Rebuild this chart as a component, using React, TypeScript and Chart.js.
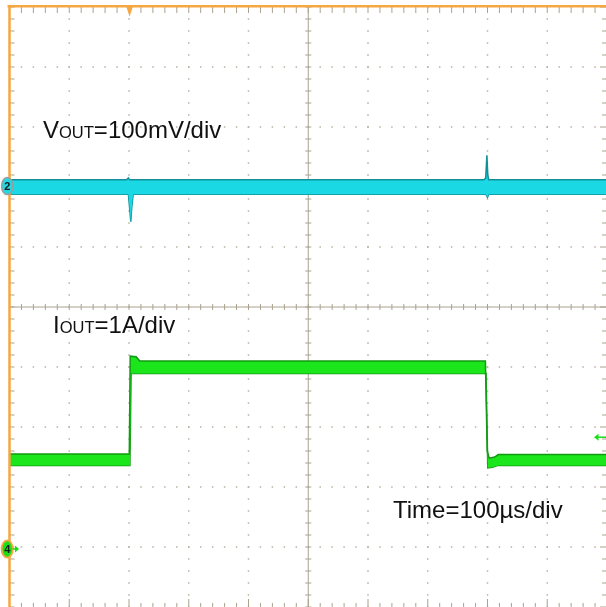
import React, { useEffect, useRef } from "react";
import { Chart, registerables } from "chart.js";
Chart.register(...registerables);

// Screen: 10 x 10 divisions, time 100 µs/div
const TIME_MIN = 0;
const TIME_MAX = 1000; // µs
const DIV_MIN = -5;
const DIV_MAX = 5;
const TIME_STEP = 100; // µs per division
const MINOR = 5; // minor ticks per division

// Channel 2 (VOUT, 100 mV/div) – envelope of the noisy trace, levels in divisions
const vTimeUpper = [0, 196, 199, 201, 205, 794, 797, 799, 800.5, 802, 1000];
const vUpper = [2.12, 2.12, 2.15, 2.12, 2.12, 2.12, 2.15, 2.53, 2.2, 2.12, 2.12];
const vTimeLower = [0, 199, 201.5, 203, 204.5, 207, 797, 800, 802, 1000];
const vLower = [1.88, 1.88, 1.6, 1.42, 1.65, 1.88, 1.88, 1.83, 1.88, 1.88];

// Channel 4 (IOUT, 1 A/div) – envelope of the noisy trace, levels in divisions
const iTimeUpper = [0, 200.5, 202, 212, 218, 796.5, 799.5, 803, 812, 818, 1000];
const iUpper = [-2.45, -2.45, -0.82, -0.83, -0.9, -0.9, -2.4, -2.52, -2.5, -2.46, -2.46];
const iTimeLower = [0, 201.5, 203.5, 797.5, 800.5, 808, 818, 1000];
const iLower = [-2.64, -2.64, -1.11, -1.11, -2.68, -2.67, -2.64, -2.64];

// Markers
const ch2Offset = 2; // divisions
const ch4Offset = -4; // divisions
const triggerTime = 201; // µs
const triggerLevel = -2.17; // divisions

const ORANGE = "#f5a742";
const GRID = "#b9b2a2";
const TICK = "#a9a28f";

const pts = (xs: number[], ys: number[]) => xs.map((x, i) => ({ x, y: ys[i] }));

const scopePlugin = {
  id: "scope",
  beforeDatasetsDraw(chart: any) {
    const { ctx, chartArea, scales } = chart;
    const { left, right, top, bottom } = chartArea;
    const xs = scales.x;
    const ys = scales.y;
    ctx.save();
    // dotted grid
    ctx.fillStyle = GRID;
    for (let d = 1; d < 10; d++) {
      if (d === 5) continue;
      const px = xs.getPixelForValue(d * TIME_STEP);
      for (let m = 0; m <= 10 * MINOR; m++) {
        const py = ys.getPixelForValue(DIV_MIN + m / MINOR);
        ctx.fillRect(px - 0.75, py - 0.75, 1.5, 1.5);
      }
    }
    for (let d = DIV_MIN + 1; d < DIV_MAX; d++) {
      if (d === 0) continue;
      const py = ys.getPixelForValue(d);
      for (let m = 0; m <= 10 * MINOR; m++) {
        const px = xs.getPixelForValue((m / MINOR) * TIME_STEP);
        ctx.fillRect(px - 0.75, py - 0.75, 1.5, 1.5);
      }
    }
    // center crosshair
    const cx = xs.getPixelForValue(500);
    const cy = ys.getPixelForValue(0);
    ctx.strokeStyle = TICK;
    ctx.lineWidth = 1;
    ctx.beginPath();
    ctx.moveTo(cx, top);
    ctx.lineTo(cx, bottom);
    ctx.moveTo(left, cy);
    ctx.lineTo(right, cy);
    for (let m = 0; m <= 10 * MINOR; m++) {
      const py = ys.getPixelForValue(DIV_MIN + m / MINOR);
      ctx.moveTo(cx - 3, py);
      ctx.lineTo(cx + 3, py);
      const px = xs.getPixelForValue((m / MINOR) * TIME_STEP);
      ctx.moveTo(px, cy - 3);
      ctx.lineTo(px, cy + 3);
    }
    // edge ticks
    for (let m = 0; m <= 10 * MINOR; m++) {
      const major = m % MINOR === 0;
      const py = ys.getPixelForValue(DIV_MIN + m / MINOR);
      const px = xs.getPixelForValue((m / MINOR) * TIME_STEP);
      const l = major ? 7 : 5;
      ctx.moveTo(left, py);
      ctx.lineTo(left + 5, py);
      ctx.moveTo(right, py);
      ctx.lineTo(right - l, py);
      ctx.moveTo(px, top);
      ctx.lineTo(px, top + 6);
      ctx.moveTo(px, bottom);
      ctx.lineTo(px, bottom - (major ? 8 : 4));
    }
    ctx.stroke();
    ctx.restore();
  },
  afterDatasetsDraw(chart: any) {
    const { ctx, chartArea, scales } = chart;
    const { left, right, top, bottom } = chartArea;
    const xs = scales.x;
    const ys = scales.y;
    ctx.save();
    // orange frame (left, top)
    ctx.strokeStyle = ORANGE;
    ctx.lineWidth = 2.5;
    ctx.beginPath();
    ctx.moveTo(left, top - 1);
    ctx.lineTo(left, bottom + 2);
    ctx.moveTo(left - 2, top - 0.8);
    ctx.lineTo(right + 2, top - 0.8);
    ctx.stroke();
    // trigger position triangle
    const tx = xs.getPixelForValue(triggerTime);
    ctx.fillStyle = ORANGE;
    ctx.beginPath();
    ctx.moveTo(tx - 3.5, top - 1);
    ctx.lineTo(tx + 3.5, top - 1);
    ctx.lineTo(tx, top + 9.5);
    ctx.closePath();
    ctx.fill();
    // channel 2 marker
    const y2 = ys.getPixelForValue(ch2Offset);
    ctx.beginPath();
    ctx.ellipse(left - 2.3, y2 - 1, 5.6, 8.6, 0, 0, Math.PI * 2);
    ctx.fillStyle = "#22d6e2";
    ctx.fill();
    ctx.lineWidth = 1.5;
    ctx.strokeStyle = "#9d9d9d";
    ctx.stroke();
    ctx.fillStyle = "#1a1a1a";
    ctx.font = "bold 11px 'Liberation Sans', Arial, sans-serif";
    ctx.textAlign = "center";
    ctx.textBaseline = "middle";
    ctx.fillText("2", left - 2.3, y2 - 0.5);
    // channel 4 marker
    const y4 = ys.getPixelForValue(ch4Offset);
    ctx.beginPath();
    ctx.ellipse(left - 2.3, y4 + 2, 5.6, 8.6, 0, 0, Math.PI * 2);
    ctx.fillStyle = "#18e018";
    ctx.fill();
    ctx.lineWidth = 1.8;
    ctx.strokeStyle = ORANGE;
    ctx.stroke();
    ctx.fillStyle = "#1a1a1a";
    ctx.fillText("4", left - 2.3, y4 + 2.5);
    ctx.fillStyle = "#18e018";
    ctx.strokeStyle = "#18e018";
    ctx.lineWidth = 1.5;
    ctx.beginPath();
    ctx.moveTo(left + 3, y4 + 2);
    ctx.lineTo(left + 6, y4 + 2);
    ctx.stroke();
    ctx.beginPath();
    ctx.moveTo(left + 5.5, y4 - 1.5);
    ctx.lineTo(left + 9.5, y4 + 2);
    ctx.lineTo(left + 5.5, y4 + 5.5);
    ctx.closePath();
    ctx.fill();
    // trigger level arrow (right)
    const ty = ys.getPixelForValue(triggerLevel);
    ctx.beginPath();
    ctx.moveTo(right - 13, ty);
    ctx.lineTo(right - 8.5, ty - 3.5);
    ctx.lineTo(right - 8.5, ty + 3.5);
    ctx.closePath();
    ctx.fill();
    ctx.beginPath();
    ctx.moveTo(right - 9, ty);
    ctx.lineTo(right, ty);
    ctx.stroke();
    ctx.restore();
  },
};

const FONT = "'Liberation Sans', Arial, Helvetica, sans-serif";

function Label({ left, baseline, main, sub, rest }: { left: number; baseline: number; main: string; sub?: string; rest: string }) {
  return (
    <div
      style={{
        position: "absolute",
        left,
        top: baseline - 20.3,
        fontFamily: FONT,
        fontSize: 24,
        lineHeight: "24px",
        color: "#111",
        whiteSpace: "nowrap",
      }}
    >
      {main}
      {sub ? <span style={{ fontSize: 16.5 }}>{sub}</span> : null}
      {rest}
    </div>
  );
}

export default function App() {
  const ref = useRef<HTMLCanvasElement | null>(null);
  useEffect(() => {
    document.body.style.margin = "0";
    const canvas = ref.current!;
    const chart = new Chart(canvas, {
      type: "line",
      data: {
        datasets: [
          {
            label: "VOUT upper",
            data: pts(vTimeUpper, vUpper),
            borderColor: "#12909a",
            backgroundColor: "#1ad8e4",
            borderWidth: 1.5,
            fill: "+1",
            pointRadius: 0,
            tension: 0,
          },
          {
            label: "VOUT lower",
            data: pts(vTimeLower, vLower),
            borderColor: "#12909a",
            borderWidth: 1.5,
            fill: false,
            pointRadius: 0,
            tension: 0,
          },
          {
            label: "IOUT upper",
            data: pts(iTimeUpper, iUpper),
            borderColor: "#129a12",
            backgroundColor: "#1be51b",
            borderWidth: 1.5,
            fill: "+1",
            pointRadius: 0,
            tension: 0,
          },
          {
            label: "IOUT lower",
            data: pts(iTimeLower, iLower),
            borderColor: "#129a12",
            borderWidth: 1.5,
            fill: false,
            pointRadius: 0,
            tension: 0,
          },
        ],
      },
      options: {
        responsive: false,
        animation: false,
        devicePixelRatio: 1,
        layout: { padding: { left: 9.5, top: 7, right: 5, bottom: 5 } },
        plugins: { legend: { display: false }, tooltip: { enabled: false } },
        scales: {
          x: { type: "linear", min: TIME_MIN, max: TIME_MAX, display: false },
          y: { type: "linear", min: DIV_MIN, max: DIV_MAX, display: false },
        },
      },
      plugins: [scopePlugin],
    });
    return () => chart.destroy();
  }, []);
  return (
    <div
      style={{
        position: "fixed",
        left: 0,
        top: 0,
        width: 606,
        height: 607,
        overflow: "hidden",
        background: "#fff",
      }}
    >
      <canvas ref={ref} width={612} height={612} style={{ position: "absolute", left: 0, top: 0 }} />
      <Label left={43} baseline={138} main="V" sub="OUT" rest="=100mV/div" />
      <Label left={53} baseline={333} main="I" sub="OUT" rest="=1A/div" />
      <Label left={393} baseline={518} main="Time=100µs/div" rest="" />
    </div>
  );
}
